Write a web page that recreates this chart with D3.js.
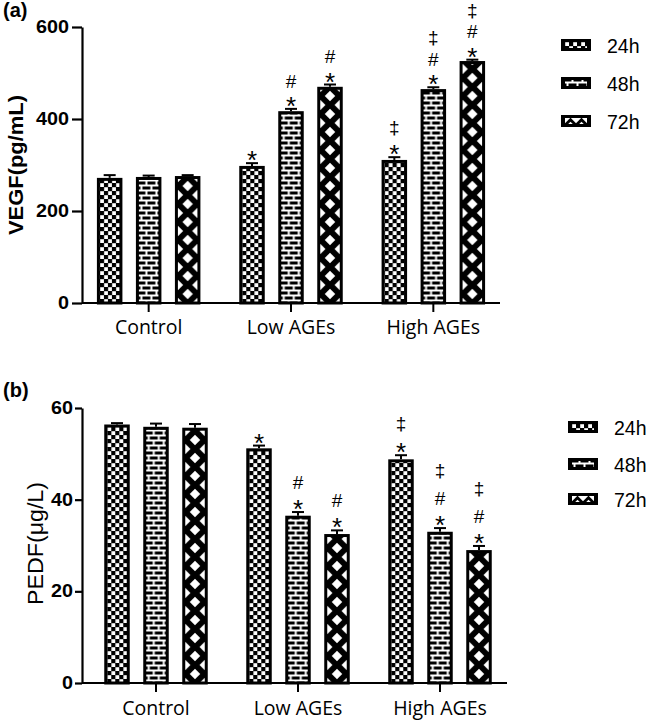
<!DOCTYPE html>
<html><head><meta charset="utf-8">
<script src="https://cdn.jsdelivr.net/npm/d3@7"></script>
<style>body{margin:0;background:#fff}svg{display:block}</style>
</head><body>
<svg id="chart" width="653" height="721"></svg>
<script>
// ---------- data ----------
const categories = ["Control", "Low AGEs", "High AGEs"];
const seriesNames = ["24h", "48h", "72h"];

const vegfTicks = [0, 200, 400, 600];
const vegf24h = [272, 298, 311];
const vegf48h = [274, 417, 465];
const vegf72h = [276, 470, 526];
const vegfErr24h = [6, 6, 6];
const vegfErr48h = [3, 5, 4];
const vegfErr72h = [2, 5, 3];

const pedfTicks = [0, 20, 40, 60];
const pedf24h = [56.4, 51.2, 48.8];
const pedf48h = [55.9, 36.5, 33.0];
const pedf72h = [55.7, 32.5, 29.0];
const pedfErr24h = [0.3, 0.6, 0.9];
const pedfErr48h = [0.7, 0.8, 0.8];
const pedfErr72h = [0.8, 0.8, 0.9];

// significance marks per series, per category
const marks24h = [[], ["*"], ["*", "‡"]];
const marks48h = [[], ["*", "#"], ["*", "#", "‡"]];
const marks72h = [[], ["*", "#"], ["*", "#", "‡"]];

// ---------- drawing ----------
const svg = d3.select("#chart");
const defs = svg.append("defs");
let patCount = 0;

function makePattern(type, px, py, innerW) {
  const id = "pat" + (patCount++);
  let w, h;
  if (type === 0) { w = 8; h = 8; }
  else if (type === 1) { w = 10; h = 10; }
  else { w = innerW; h = 18; }
  const p = defs.append("pattern").attr("id", id)
    .attr("patternUnits", "userSpaceOnUse")
    .attr("x", px).attr("y", py).attr("width", w).attr("height", h);
  p.append("rect").attr("width", w).attr("height", h).attr("fill", "#000");
  if (type === 0) {
    p.append("rect").attr("x", 0.2).attr("y", 0.2).attr("width", 3.8).attr("height", 3.8).attr("fill", "#fff");
    p.append("rect").attr("x", 4.2).attr("y", 4.2).attr("width", 3.8).attr("height", 3.8).attr("fill", "#fff");
  } else if (type === 1) {
    const s = "#fff", sw = 2;
    p.append("line").attr("x1", 0).attr("x2", w).attr("y1", 2.5).attr("y2", 2.5).attr("stroke", s).attr("stroke-width", sw);
    p.append("line").attr("x1", 0).attr("x2", w).attr("y1", 7.5).attr("y2", 7.5).attr("stroke", s).attr("stroke-width", sw);
    p.append("line").attr("x1", 2.5).attr("x2", 2.5).attr("y1", 2.5).attr("y2", 7.5).attr("stroke", s).attr("stroke-width", sw);
    p.append("line").attr("x1", 7.5).attr("x2", 7.5).attr("y1", 7.5).attr("y2", 10).attr("stroke", s).attr("stroke-width", sw);
    p.append("line").attr("x1", 7.5).attr("x2", 7.5).attr("y1", 0).attr("y2", 2.5).attr("stroke", s).attr("stroke-width", sw);
  } else {
    const d = 5.2;
    const pts = [[0, 0], [w, 0], [0, h], [w, h], [w / 2, h / 2]];
    pts.forEach(([cx, cy]) => {
      p.append("path").attr("d", `M${cx},${cy - d}L${cx + d},${cy}L${cx},${cy + d}L${cx - d},${cy}Z`).attr("fill", "#fff");
    });
  }
  return "url(#" + id + ")";
}

const glyphCenter = { "*": 0.58, "#": 0.35, "‡": 0.27 };
const glyphSize = { "*": 26, "#": 19, "‡": 19 };

function drawPanel(cfg) {
  const g = svg.append("g");
  const top = cfg.ticks[cfg.ticks.length - 1];
  const y = d3.scaleLinear().domain([0, top]).range(cfg.yRange);
  const x0 = d3.scaleBand().domain(categories).range(cfg.bandRange).padding(0);
  const step = x0.step();
  const half = cfg.barStep + cfg.barWidth / 2;
  const x1 = d3.scaleBand().domain(seriesNames)
    .range([step / 2 - half, step / 2 + half])
    .paddingInner((cfg.barStep - cfg.barWidth) / cfg.barStep).paddingOuter(0);
  const bw = x1.bandwidth();

  // bars
  cfg.series.forEach((vals, si) => {
    vals.forEach((v, ci) => {
      const bx = x0(categories[ci]) + x1(seriesNames[si]);
      const e = cfg.errors[si][ci];
      const cx = bx + bw / 2;
      // error bar
      g.append("line").attr("x1", cx).attr("x2", cx).attr("y1", y(v)).attr("y2", y(v + e))
        .attr("stroke", "#000").attr("stroke-width", 2);
      g.append("line").attr("x1", cx - 6).attr("x2", cx + 6).attr("y1", y(v + e)).attr("y2", y(v + e))
        .attr("stroke", "#000").attr("stroke-width", 2);
      const fill = makePattern(si, bx + 3, y(0), bw - 6);
      g.append("rect").attr("x", bx + 1.5).attr("y", y(v) + 1.5)
        .attr("width", bw - 3).attr("height", y(0) - y(v) - 1.5)
        .attr("fill", fill).attr("stroke", "#000").attr("stroke-width", 3);
      // marks
      const errTop = y(v + e);
      cfg.marks[si][ci].forEach((m, li) => {
        const fs = glyphSize[m];
        const c = errTop - cfg.levels[li];
        g.append("text").attr("x", cx).attr("y", c + glyphCenter[m] * fs)
          .attr("text-anchor", "middle").attr("font-family", "Liberation Sans, Arial, sans-serif")
          .attr("font-size", fs).attr("fill", "#000").text(m);
      });
    });
  });

  // y axis
  const ya = g.append("g").attr("transform", `translate(${cfg.axisX0},0)`)
    .call(d3.axisLeft(y).tickValues(cfg.ticks).tickSize(cfg.tickSize).tickSizeOuter(0).tickPadding(cfg.tickPad));
  ya.select(".domain").attr("stroke", "#000").attr("stroke-width", 2.2);
  ya.selectAll(".tick line").attr("stroke", "#000").attr("stroke-width", 2.2);
  ya.selectAll(".tick text").attr("fill", "#000").attr("font-family", "Liberation Sans, Arial, sans-serif")
    .attr("font-weight", "bold").attr("font-size", 17.5)
    .attr("textLength", d => String(d).length * 11).attr("lengthAdjust", "spacingAndGlyphs");

  // x axis
  g.append("line").attr("x1", cfg.axisX0).attr("x2", cfg.axisX1).attr("y1", y(0)).attr("y2", y(0))
    .attr("stroke", "#000").attr("stroke-width", 2.2);
  categories.forEach((c, ci) => {
    const cx = x0(c) + step / 2;
    g.append("line").attr("x1", cx).attr("x2", cx).attr("y1", y(0)).attr("y2", y(0) + 9)
      .attr("stroke", "#000").attr("stroke-width", 2);
    g.append("text").attr("x", cx).attr("y", cfg.catBaseline).attr("text-anchor", "middle")
      .attr("font-family", "Open Sans, sans-serif").attr("font-size", 19.5).attr("fill", "#000").text(c);
  });

  // y title
  g.append("text").attr("transform", `translate(${cfg.titleX},${cfg.titleY}) rotate(-90)`)
    .attr("text-anchor", "middle").attr("font-family", "Liberation Sans, Arial, sans-serif")
    .attr("font-weight", cfg.titleWeight).attr("font-size", cfg.titleSize).attr("fill", "#000")
    .attr("textLength", cfg.titleLen).attr("lengthAdjust", "spacingAndGlyphs")
    .text(cfg.title);

  // panel label
  g.append("text").attr("x", 3).attr("y", cfg.labelY).attr("font-family", "Liberation Sans, Arial, sans-serif")
    .attr("font-weight", "bold").attr("font-size", 20).attr("fill", "#000").text(cfg.label);

  // legend
  seriesNames.forEach((s, si) => {
    const b = cfg.legendBaselines[si];
    const ry = b - 14;
    g.append("rect").attr("x", cfg.legendX).attr("y", ry).attr("width", 30).attr("height", 12).attr("fill", "#000");
    const fill = makePattern(si, cfg.legendX + 4, ry + 3, 11);
    g.append("rect").attr("x", cfg.legendX + 4).attr("y", ry + 3).attr("width", 22).attr("height", 6).attr("fill", fill);
    g.append("text").attr("x", cfg.legendX + 46).attr("y", b).attr("font-family", "Liberation Sans, Arial, sans-serif")
      .attr("font-size", 19.5).attr("fill", "#000").text(s);
  });
}

drawPanel({
  series: [vegf24h, vegf48h, vegf72h],
  errors: [vegfErr24h, vegfErr48h, vegfErr72h],
  marks: [marks24h, marks48h, marks72h],
  ticks: vegfTicks,
  yRange: [303, 27], bandRange: [77.5, 504.5], barStep: 39, barWidth: 25.5,
  axisX0: 82, axisX1: 500, tickSize: 10, tickPad: 3,
  catBaseline: 334, levels: [9, 28, 48],
  title: "VEGF(pg/mL)", titleX: 23, titleY: 165, titleSize: 21, titleWeight: "bold", titleLen: 140,
  label: "(a)", labelY: 17,
  legendX: 561, legendBaselines: [53, 91, 129]
});

drawPanel({
  series: [pedf24h, pedf48h, pedf72h],
  errors: [pedfErr24h, pedfErr48h, pedfErr72h],
  marks: [marks24h, marks48h, marks72h],
  ticks: pedfTicks,
  yRange: [683, 408], bandRange: [85, 511], barStep: 39, barWidth: 25.5,
  axisX0: 82, axisX1: 507, tickSize: 7, tickPad: 2,
  catBaseline: 715, levels: [9, 30, 56],
  title: "PEDF(μg/L)", titleX: 43, titleY: 543.5, titleSize: 22, titleWeight: "normal", titleLen: 123,
  label: "(b)", labelY: 397,
  legendX: 568, legendBaselines: [435, 472, 507]
});
</script>
</body></html>
